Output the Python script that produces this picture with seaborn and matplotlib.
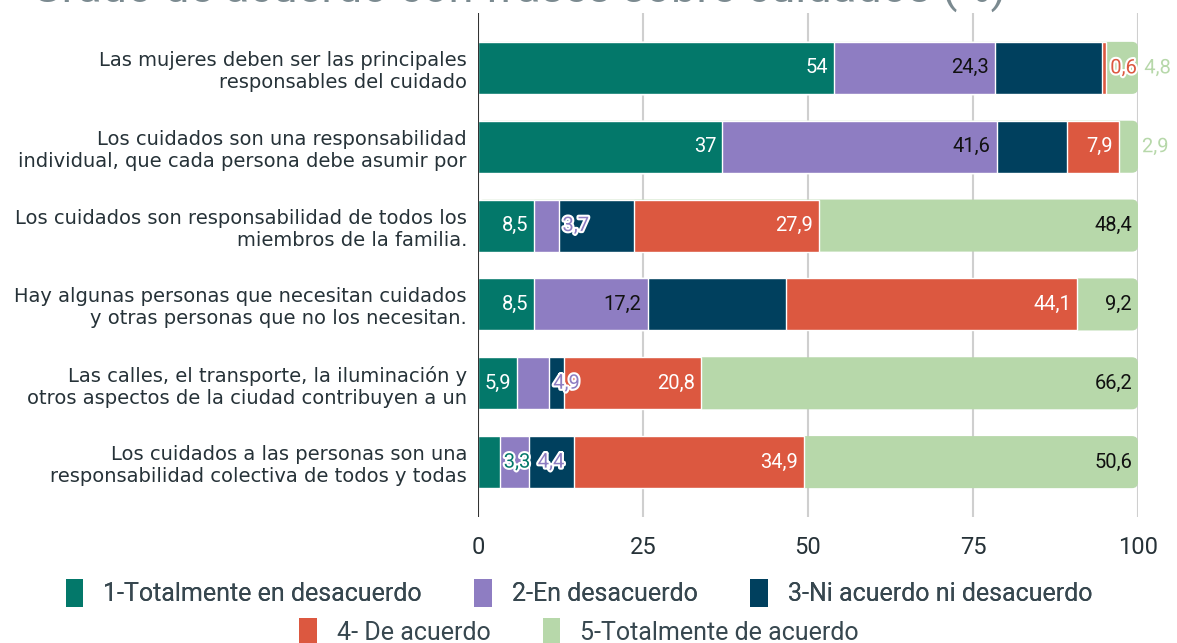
import numpy as np
import pandas as pd
import matplotlib
matplotlib.use("Agg")
import matplotlib.pyplot as plt
import seaborn as sns
from matplotlib.patches import Patch, FancyBboxPatch
import matplotlib.patheffects as pe

# --- data ---
frases = [
    "Las mujeres deben ser las principales\nresponsables del cuidado",
    "Los cuidados son una responsabilidad\nindividual, que cada persona debe asumir por",
    "Los cuidados son responsabilidad de todos los\nmiembros de la familia.",
    "Hay algunas personas que necesitan cuidados\ny otras personas que no los necesitan.",
    "Las calles, el transporte, la iluminación y\notros aspectos de la ciudad contribuyen a un",
    "Los cuidados a las personas son una\nresponsabilidad colectiva de todos y todas",
]
categorias = [
    "1-Totalmente en desacuerdo",
    "2-En desacuerdo",
    "3-Ni acuerdo ni desacuerdo",
    "4- De acuerdo",
    "5-Totalmente de acuerdo",
]
totalmente_desacuerdo = [54, 37, 8.5, 8.5, 5.9, 3.3]
en_desacuerdo = [24.3, 41.6, 3.7, 17.2, 4.9, 4.4]
ni_acuerdo = [16.3, 10.6, 11.5, 21.0, 2.2, 6.8]
de_acuerdo = [0.6, 7.9, 27.9, 44.1, 20.8, 34.9]
totalmente_acuerdo = [4.8, 2.9, 48.4, 9.2, 66.2, 50.6]
xticks = [0, 25, 50, 75, 100]

colores = ["#03786a", "#8e7dc2", "#00405e", "#dc5840", "#b7d8aa"]
color_etiqueta = ["white", "#111111", None, "white", "#111111"]
titulo = "Grado de acuerdo con frases sobre cuidados (%)"

series = [totalmente_desacuerdo, en_desacuerdo, ni_acuerdo, de_acuerdo, totalmente_acuerdo]

df = pd.DataFrame({"frase": frases})
for cat, vals in zip(categorias, series):
    df[cat] = vals
cum = df[categorias].cumsum(axis=1)
cum["frase"] = frases

text_col = "#263238"

sns.set_style("white")
fig = plt.figure(figsize=(11.77, 6.43), dpi=100)
ax = fig.add_axes([478 / 1177, 1 - 517 / 643, 660 / 1177, 504 / 643])

bar_w = 0.66
# stacked: draw cumulative totals from the last category backwards
for i in range(len(categorias) - 1, -1, -1):
    sns.barplot(data=cum, x=categorias[i], y="frase", orient="h", color=colores[i],
                width=bar_w, saturation=1, ax=ax, zorder=3)
    if i == len(categorias) - 1:
        # round the right end of the full bar
        for p in list(ax.patches):
            x0, y0 = p.get_x(), p.get_y()
            w, h = p.get_width(), p.get_height()
            p.remove()
            ax.add_patch(FancyBboxPatch((x0, y0), w, h,
                                        boxstyle="round,pad=0,rounding_size=0.9",
                                        mutation_aspect=0.085, fc=colores[i], ec="none",
                                        zorder=3))

ax.set_xlim(0, 100)
ax.set_ylim(5.696, -0.696)
ax.set_xlabel("")
ax.set_ylabel("")
ax.set_xticks(xticks)
ax.set_xticklabels([str(t) for t in xticks], fontsize=17, color=text_col, family="Roboto")
ax.tick_params(axis="x", length=0, pad=14)
ax.tick_params(axis="y", length=0, pad=8)
for lab in ax.get_yticklabels():
    lab.set_fontsize(14)
    lab.set_color(text_col)
    lab.set_family("DejaVu Sans")
for s in ax.spines.values():
    s.set_visible(False)
for t in xticks[1:]:
    ax.axvline(t, color="#cfcfcf", lw=1.5, zorder=1)
ax.axvline(0, color="#333333", lw=1.5, zorder=5)

# value labels
for r in range(len(frases)):
    start = 0.0
    next_free = -1.0
    for i, vals in enumerate(series):
        v = vals[r]
        end = start + v
        if color_etiqueta[i] is not None:
            txt = f"{v:g}".replace(".", ",")
            if v >= 5.5:
                ax.text(end - 0.9, r, txt, ha="right", va="center", fontsize=14.5,
                        color=color_etiqueta[i], family="Roboto", zorder=6)
            else:
                xx = max(end + 0.6, next_free)
                ax.text(xx, r, txt, ha="left", va="center", fontsize=14.5,
                        color=colores[i], family="Roboto", zorder=6, clip_on=False,
                        path_effects=[pe.withStroke(linewidth=3, foreground="white")])
                next_free = xx + 1.45 * len(txt) + 0.8
        start = end

# title (cut off at the top as in the reference)
fig.text(0.026, 1 - 3 / 643, titulo, fontsize=32.5, color="#7b8a90", family="Roboto",
         ha="left", va="baseline")

# legend in two centred rows
handles = [Patch(facecolor=c, edgecolor="none") for c in colores]
leg_kw = dict(frameon=False, handlelength=0.7, handleheight=1.4, handletextpad=0.8,
              columnspacing=2.1, prop={"family": "Roboto", "size": 18}, labelcolor="#37474f")
leg1 = fig.legend(handles[:3], categorias[:3], ncol=3, loc="center",
                  bbox_to_anchor=(0.492, 1 - 593 / 643), **leg_kw)
fig.add_artist(leg1)
fig.legend(handles[3:], categorias[3:], ncol=2, loc="center",
           bbox_to_anchor=(0.492, 1 - 632 / 643), **leg_kw)

fig.savefig("out.png", dpi=100)
